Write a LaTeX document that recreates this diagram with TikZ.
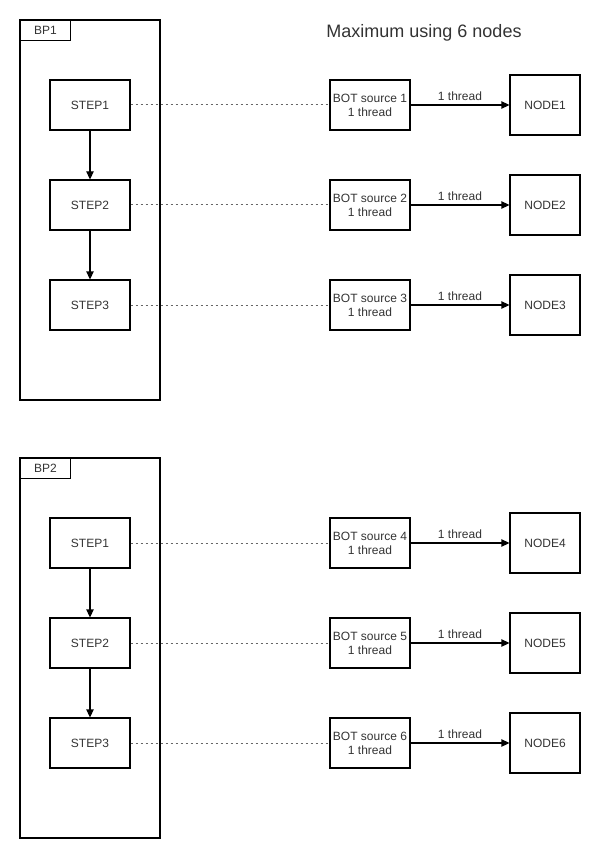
\documentclass[tikz,border=0pt]{standalone}
\usepackage{fontspec}
\setmainfont{Liberation Sans}
\usetikzlibrary{arrows.meta}

\begin{document}
\begin{tikzpicture}[
        x=0.75pt, y=-0.75pt,
        every node/.style={text=black!80, font=\fontsize{9}{10.5}\selectfont},
        box/.style={draw, thick, inner sep=0pt, align=center},
        stepbox/.style={box, minimum width=60pt, minimum height=37.5pt},
        botbox/.style={stepbox},
        nodebox/.style={box, minimum width=52.5pt, minimum height=45pt},
        tab/.style={box, anchor=north west, minimum width=37.5pt, minimum height=15pt},
        link/.style={draw=black!60, line width=0.75pt, dash pattern=on 1.5pt off 2.25pt},
        flow/.style={draw, thick, -{Triangle[length=6pt,width=5.5pt]}},
        ]
    \useasboundingbox (0,0) rectangle (601,859);
    \node[font=\fontsize{13.5}{15}\selectfont] (title) at (424,33) {Maximum using 6 nodes};
    % first process
    \draw[thick] (20,20) rectangle (160,400);
    \node[tab] (bp1) at (20,20) {BP1};
    \node[stepbox] (s11) at (90,105) {STEP1};
    \node[stepbox] (s12) at (90,205) {STEP2};
    \node[stepbox] (s13) at (90,305) {STEP3};
    \node[botbox] (b1) at (370,105) {BOT source 1\\1 thread};
    \node[botbox] (b2) at (370,205) {BOT source 2\\1 thread};
    \node[botbox] (b3) at (370,305) {BOT source 3\\1 thread};
    \node[nodebox] (n1) at (545,105) {NODE1};
    \node[nodebox] (n2) at (545,205) {NODE2};
    \node[nodebox] (n3) at (545,305) {NODE3};
    \draw[flow] (s11) -- (s12);
    \draw[flow] (s12) -- (s13);
    \draw[link] (s11) -- (b1);
    \draw[link] (s12) -- (b2);
    \draw[link] (s13) -- (b3);
    \draw[flow] (b1) -- node[above, inner sep=3pt] (t1) {1 thread} (n1);
    \draw[flow] (b2) -- node[above, inner sep=3pt] (t2) {1 thread} (n2);
    \draw[flow] (b3) -- node[above, inner sep=3pt] (t3) {1 thread} (n3);
    % second process
    \draw[thick] (20,458) rectangle (160,838);
    \node[tab] (bp2) at (20,458) {BP2};
    \node[stepbox] (s21) at (90,543) {STEP1};
    \node[stepbox] (s22) at (90,643) {STEP2};
    \node[stepbox] (s23) at (90,743) {STEP3};
    \node[botbox] (b4) at (370,543) {BOT source 4\\1 thread};
    \node[botbox] (b5) at (370,643) {BOT source 5\\1 thread};
    \node[botbox] (b6) at (370,743) {BOT source 6\\1 thread};
    \node[nodebox] (n4) at (545,543) {NODE4};
    \node[nodebox] (n5) at (545,643) {NODE5};
    \node[nodebox] (n6) at (545,743) {NODE6};
    \draw[flow] (s21) -- (s22);
    \draw[flow] (s22) -- (s23);
    \draw[link] (s21) -- (b4);
    \draw[link] (s22) -- (b5);
    \draw[link] (s23) -- (b6);
    \draw[flow] (b4) -- node[above, inner sep=3pt] (t4) {1 thread} (n4);
    \draw[flow] (b5) -- node[above, inner sep=3pt] (t5) {1 thread} (n5);
    \draw[flow] (b6) -- node[above, inner sep=3pt] (t6) {1 thread} (n6);
\end{tikzpicture}
\end{document}
